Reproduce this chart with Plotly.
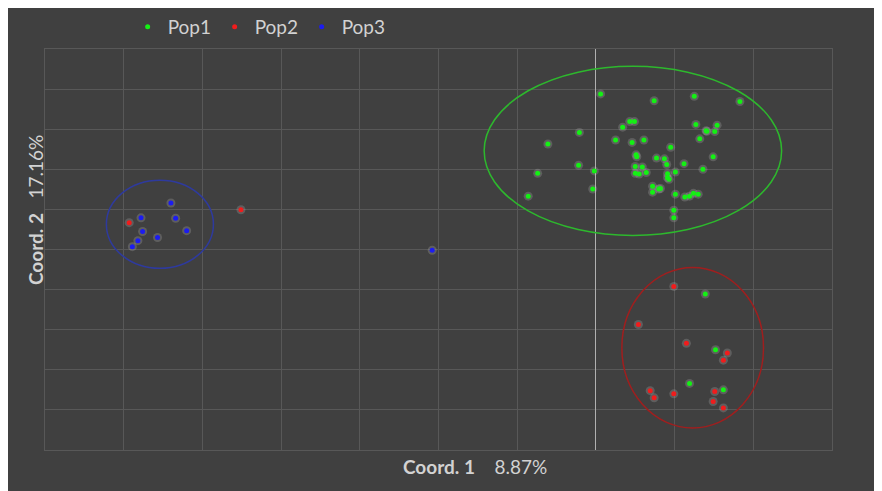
import plotly.graph_objects as go

# ---- data (coordinate units) ----
pop1_x = [0.06, 0.74, 1.25, 1.83, 0.43, 0.49, 0.34, 1.27, 1.54, 1.40, 1.41, 1.51, -0.21, -0.61,
          0.25, 0.46, 0.61, 1.32, 0.95, 0.51, 0.52, 0.77, 0.87, 1.49, 0.90, 1.12, -0.22, -0.02,
          -0.74, 0.50, 0.59, 1.36, 0.50, 0.55, 0.64, 0.91, 1.01, 0.91, 0.93, -0.04, 0.72, 0.72,
          0.80, 0.82, -0.86, 1.01, 1.13, 1.19, 1.24, 1.30, 0.99, 0.99, 1.39, 1.52, 1.19, 1.62]
pop1_y = [8.88, 8.71, 8.82, 8.69, 8.19, 8.19, 8.05, 8.12, 8.10, 7.96, 7.95, 7.94, 7.92, 7.63,
          7.73, 7.67, 7.73, 7.76, 7.55, 7.36, 7.31, 7.28, 7.26, 7.31, 7.12, 7.14, 7.10, 6.96,
          6.90, 7.07, 7.06, 7.00, 6.90, 6.88, 6.92, 6.89, 6.93, 6.79, 6.75, 6.51, 6.58, 6.43,
          6.51, 6.52, 6.33, 6.38, 6.31, 6.33, 6.40, 6.38, 5.98, 5.79, 3.89, 2.50, 1.66, 1.50]

pop2_x = [0.99, 0.54, 1.15, 1.67, 1.62, 0.69, 0.74, 0.99, 1.51, 1.49, 1.62, -5.93, -4.51]
pop2_y = [4.08, 3.13, 2.66, 2.42, 2.24, 1.48, 1.30, 1.40, 1.46, 1.21, 1.05, 5.67, 5.99]

pop3_x = [-5.40, -5.78, -5.34, -5.76, -5.20, -5.57, -5.82, -5.89, -2.08]
pop3_y = [6.16, 5.79, 5.78, 5.45, 5.47, 5.30, 5.22, 5.07, 4.98]

series_names = ["Pop1", "Pop2", "Pop3"]
series_x = [pop1_x, pop2_x, pop3_x]
series_y = [pop1_y, pop2_y, pop3_y]
series_colors = ["#14f014", "#f01c1c", "#1c1cf0"]

# confidence ellipses: centre x, centre y, radius x, radius y
ell_cx = [0.47, 1.23, -5.54]
ell_cy = [7.46, 2.55, 5.63]
ell_rx = [1.89, 0.90, 0.68]
ell_ry = [2.11, 2.00, 1.10]
ell_colors = ["#2db82d", "#a01e1e", "#2e3a9e"]

x_title = "<b>Coord. 1</b>\u00a0\u00a0\u00a0 8.87%"
y_title = "<b>Coord. 2</b>\u00a0\u00a0 17.16%"

BG = "#404040"
GRID = "#585858"
TXT = "#d2d2d2"
FONT = "Lato"

fig = go.Figure()

# soft halos behind points
for xs, ys in zip(series_x, series_y):
    fig.add_trace(go.Scatter(x=xs, y=ys, mode="markers", showlegend=False, hoverinfo="skip",
                             marker=dict(size=9, color="rgba(200,200,200,0.22)")))

for name, xs, ys, c in zip(series_names, series_x, series_y, series_colors):
    fig.add_trace(go.Scatter(x=xs, y=ys, mode="markers", name=name,
                             marker=dict(size=5, color=c)))

shapes = []
for cx, cy, rx, ry, c in zip(ell_cx, ell_cy, ell_rx, ell_ry, ell_colors):
    shapes.append(dict(type="circle", xref="x", yref="y", x0=cx - rx, x1=cx + rx,
                       y0=cy - ry, y1=cy + ry, line=dict(color=c, width=1.5)))

fig.update_layout(
    width=882, height=491,
    margin=dict(l=37, r=58, t=41, b=49, autoexpand=False),
    paper_bgcolor=BG, plot_bgcolor=BG,
    shapes=shapes,
    font=dict(family=FONT, color=TXT),
    showlegend=True,
    legend=dict(orientation="h", x=0.105, xanchor="left", y=1.055, yanchor="middle",
                font=dict(size=19, color=TXT, family=FONT), bgcolor="rgba(0,0,0,0)",
                entrywidth=42),
    annotations=[
        dict(text=x_title, xref="paper", yref="paper", x=0.546, y=-0.040,
             xanchor="center", yanchor="middle", showarrow=False, font=dict(size=19, color=TXT, family=FONT)),
        dict(text=y_title, xref="paper", yref="paper", x=-0.0127, y=0.5985,
             xanchor="center", yanchor="middle", textangle=-90, showarrow=False,
             font=dict(size=19, color=TXT, family=FONT)),
    ],
)
fig.update_xaxes(range=[-7, 3], dtick=1, showticklabels=False, ticks="", gridcolor=GRID, gridwidth=1,
                 zeroline=True, zerolinecolor="#b0b0b0", zerolinewidth=1,
                 showline=True, linecolor=GRID, mirror=True)
fig.update_yaxes(range=[0, 10], dtick=1, showticklabels=False, ticks="", gridcolor=GRID, gridwidth=1,
                 zeroline=False, showline=True, linecolor=GRID, mirror=True)

fig.write_html("out.html")
